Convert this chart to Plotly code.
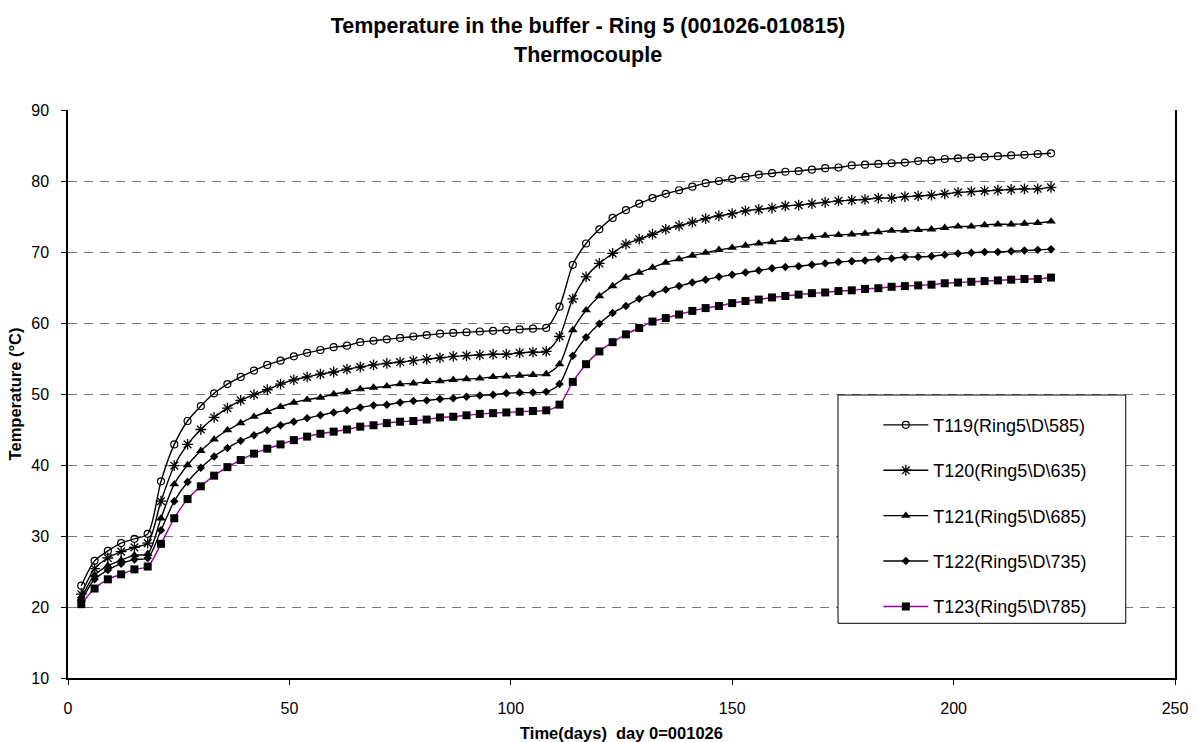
import plotly.graph_objects as go

DAYS = [3, 6, 9, 12, 15, 18, 21, 24, 27, 30, 33, 36, 39, 42, 45, 48, 51, 54, 57, 60,
        63, 66, 69, 72, 75, 78, 81, 84, 87, 90, 93, 96, 99, 102, 105, 108, 111, 114, 117, 120,
        123, 126, 129, 132, 135, 138, 141, 144, 147, 150, 153, 156, 159, 162, 165, 168, 171, 174, 177, 180,
        183, 186, 189, 192, 195, 198, 201, 204, 207, 210, 213, 216, 219, 222]

T119 = [23.0, 26.5, 27.9, 29.0, 29.6, 30.3, 37.7, 42.9, 46.2, 48.3,
        50.1, 51.4, 52.4, 53.3, 54.1, 54.7, 55.3, 55.8, 56.2, 56.6,
        56.8, 57.3, 57.5, 57.7, 57.9, 58.1, 58.3, 58.5, 58.6, 58.7,
        58.8, 58.9, 59.0, 59.1, 59.2, 59.3, 62.3, 68.2, 71.2, 73.2,
        74.8, 75.9, 76.8, 77.6, 78.2, 78.7, 79.2, 79.7, 80.0, 80.3,
        80.6, 80.9, 81.1, 81.3, 81.4, 81.6, 81.8, 81.9, 82.2, 82.3,
        82.4, 82.5, 82.6, 82.8, 82.9, 83.1, 83.2, 83.3, 83.4, 83.5,
        83.6, 83.7, 83.8, 83.9]

T120 = [21.8, 25.4, 26.9, 27.8, 28.4, 29.0, 34.9, 39.9, 42.9, 45.0,
        46.7, 48.0, 49.1, 49.9, 50.6, 51.4, 52.0, 52.4, 52.8, 53.1,
        53.5, 53.8, 54.1, 54.3, 54.5, 54.7, 54.9, 55.1, 55.3, 55.4,
        55.5, 55.6, 55.6, 55.8, 55.9, 56.0, 58.1, 63.4, 66.5, 68.4,
        69.8, 71.1, 71.8, 72.5, 73.2, 73.7, 74.2, 74.7, 75.1, 75.4,
        75.8, 76.0, 76.2, 76.5, 76.6, 76.8, 77.0, 77.2, 77.3, 77.4,
        77.6, 77.6, 77.8, 77.9, 78.0, 78.2, 78.4, 78.5, 78.6, 78.7,
        78.8, 78.9, 78.9, 79.1]

T121 = [21.2, 24.5, 25.8, 26.6, 27.3, 27.5, 32.5, 37.3, 40.0, 42.0,
        43.6, 44.9, 45.9, 46.8, 47.5, 48.2, 48.8, 49.2, 49.5, 50.0,
        50.3, 50.7, 50.9, 51.1, 51.4, 51.5, 51.7, 51.8, 52.0, 52.1,
        52.2, 52.4, 52.5, 52.6, 52.7, 52.8, 54.2, 59.0, 61.8, 63.8,
        65.2, 66.4, 67.1, 67.8, 68.5, 69.0, 69.5, 69.9, 70.3, 70.6,
        70.9, 71.2, 71.4, 71.7, 71.9, 72.1, 72.3, 72.4, 72.5, 72.6,
        72.8, 73.0, 73.0, 73.1, 73.2, 73.4, 73.6, 73.6, 73.8, 73.9,
        73.9, 74.0, 74.1, 74.3]

T122 = [20.8, 23.9, 25.2, 26.1, 26.7, 26.9, 30.8, 34.9, 37.6, 39.6,
        41.2, 42.4, 43.4, 44.2, 44.9, 45.6, 46.1, 46.6, 47.0, 47.4,
        47.7, 48.1, 48.4, 48.5, 48.8, 49.0, 49.1, 49.3, 49.4, 49.6,
        49.8, 49.9, 50.1, 50.2, 50.2, 50.3, 51.4, 55.4, 58.0, 59.9,
        61.4, 62.4, 63.4, 64.1, 64.7, 65.2, 65.7, 66.1, 66.5, 66.8,
        67.1, 67.4, 67.7, 67.9, 68.0, 68.2, 68.4, 68.6, 68.7, 68.8,
        69.0, 69.1, 69.3, 69.3, 69.4, 69.6, 69.8, 69.9, 70.0, 70.0,
        70.1, 70.2, 70.3, 70.4]

T123 = [20.4, 22.6, 23.9, 24.6, 25.3, 25.7, 28.9, 32.5, 35.2, 37.0,
        38.5, 39.7, 40.7, 41.6, 42.3, 42.9, 43.5, 44.0, 44.4, 44.7,
        45.0, 45.4, 45.6, 45.9, 46.1, 46.2, 46.4, 46.7, 46.8, 47.0,
        47.2, 47.3, 47.4, 47.5, 47.6, 47.7, 48.5, 51.7, 54.2, 56.0,
        57.3, 58.4, 59.3, 60.2, 60.7, 61.2, 61.7, 62.1, 62.4, 62.8,
        63.1, 63.3, 63.6, 63.8, 64.0, 64.2, 64.3, 64.5, 64.6, 64.8,
        64.9, 65.1, 65.2, 65.3, 65.4, 65.6, 65.7, 65.8, 65.9, 66.0,
        66.1, 66.2, 66.2, 66.4]

NAMES = ["T119(Ring5\\D\\585)", "T120(Ring5\\D\\635)", "T121(Ring5\\D\\685)",
         "T122(Ring5\\D\\735)", "T123(Ring5\\D\\785)"]
SERIES = [T119, T120, T121, T122, T123]

X_TICKS = [0, 50, 100, 150, 200, 250]
Y_TICKS = [10, 20, 30, 40, 50, 60, 70, 80, 90]

TITLE_1 = "Temperature in the buffer - Ring 5 (001026-010815)"
TITLE_2 = "Thermocouple"
X_TITLE = "Time(days)  day 0=001026"
Y_TITLE = "Temperature (°C)"

FONT = "Liberation Sans, Arial, sans-serif"

styles = [
    dict(symbol="circle-open", size=7, color="black", line=dict(width=1.2, color="black")),
    dict(symbol="asterisk-open", size=9, color="black", line=dict(width=1.3, color="black")),
    dict(symbol="triangle-up", size=8.5, color="black", line=dict(width=0)),
    dict(symbol="diamond", size=6.5, color="black", line=dict(width=0)),
    dict(symbol="square", size=8, color="black", line=dict(width=0)),
]
line_colors = ["black", "black", "black", "black", "#990099"]

fig = go.Figure()
for i, (name, ys) in enumerate(zip(NAMES, SERIES)):
    fig.add_trace(go.Scatter(
        x=DAYS, y=ys, name=name, mode="lines+markers",
        line=dict(color=line_colors[i], width=1.4, shape="spline", smoothing=0.8),
        marker=styles[i],
        legendgroup=f"g{i}",
    ))

fig.update_layout(
    width=1200, height=742,
    margin=dict(l=68, r=25, t=110, b=64, autoexpand=False),
    paper_bgcolor="white", plot_bgcolor="white",
    font=dict(family=FONT, size=16, color="black"),
    title=dict(text=TITLE_1, x=0.49, xanchor="center", xref="container",
               y=1 - 25.5 / 742, yanchor="middle", yref="container",
               font=dict(family=FONT, size=21.5, color="black", weight="bold")),
    annotations=[dict(text=TITLE_2, xref="paper", yref="paper",
                      x=(588 - 68) / 1107, y=1 + (110 - 54.5) / 568,
                      xanchor="center", yanchor="middle", showarrow=False,
                      font=dict(family=FONT, size=21.5, color="black", weight="bold"))],
    showlegend=True,
    legend=dict(x=0.732, xanchor="left", y=0.4777, yanchor="top",
                bgcolor="rgba(0,0,0,0)", borderwidth=0,
                font=dict(family=FONT, size=18, color="black"),
                tracegroupgap=19, itemwidth=45),
    shapes=[dict(type="rect", xref="paper", yref="paper",
                 x0=0.6956, x1=0.9555, y0=0.0963, y1=0.4982,
                 line=dict(color="black", width=1), fillcolor="white", layer="above")],
)

fig.update_xaxes(
    range=[0, 250], tickvals=X_TICKS, ticks="outside", ticklen=5, tickcolor="black",
    showline=True, linecolor="black", linewidth=1.5, showgrid=False, zeroline=False,
    tickfont=dict(size=16), ticklabelstandoff=10, automargin=False,
    title=dict(text=X_TITLE, font=dict(size=16.5, weight="bold"), standoff=19),
)
fig.update_yaxes(
    range=[10, 90], tickvals=Y_TICKS, ticks="outside", ticklen=5, tickcolor="black",
    showline=True, linecolor="black", linewidth=1.5, mirror=True,
    showgrid=True, gridcolor="#777777", gridwidth=1, griddash="9px,7px", zeroline=False,
    tickfont=dict(size=16), ticklabelstandoff=9, automargin=False,
    title=dict(text=Y_TITLE, font=dict(size=16.5, weight="bold"), standoff=5),
)

fig.write_html("out.html")
